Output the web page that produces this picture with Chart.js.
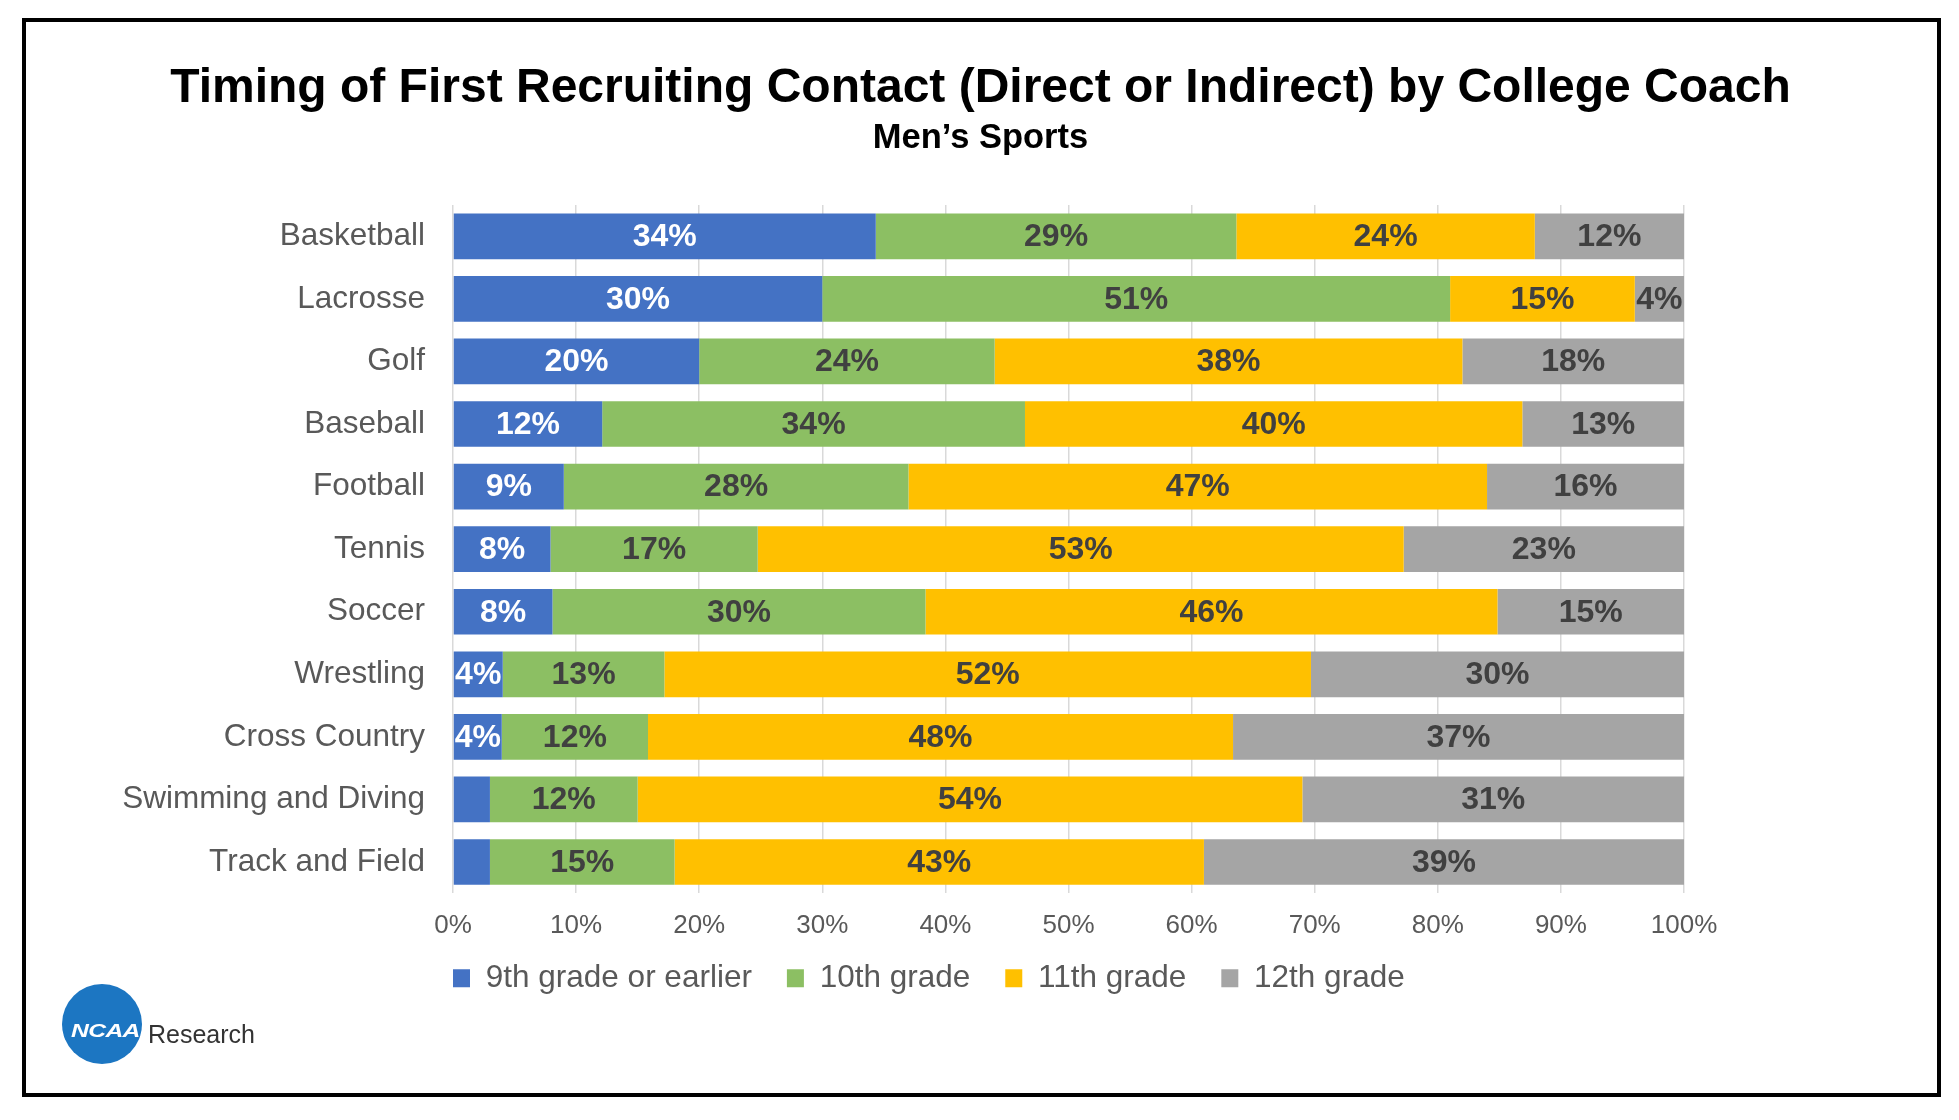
<!DOCTYPE html>
<html>
<head>
<meta charset="utf-8">
<title>Timing of First Recruiting Contact - Men's Sports</title>
<script src="https://cdn.jsdelivr.net/npm/chart.js@4.4.1/dist/chart.umd.min.js"></script>
<style>
  html, body { margin: 0; padding: 0; background: #fff; }
  body { width: 1959px; height: 1120px; position: relative; overflow: hidden; }
  #grafico { position: absolute; left: 0; top: 0; }
  #marco {
    position: absolute; left: 22px; top: 18px; width: 1919px; height: 1079px;
    box-sizing: border-box; border: 4px solid #000; pointer-events: none;
  }
  .disco {
    position: absolute; left: 62px; top: 984px; width: 80px; height: 80px;
    border-radius: 50%; background: #1c76c2;
  }
  .ncaa {
    position: absolute; left: 71px; top: 1021px; font: italic bold 19px/19px "Liberation Sans", Arial, sans-serif;
    color: #fff; letter-spacing: -0.5px; transform: scaleX(1.3); transform-origin: left center;
  }
  .research {
    position: absolute; left: 148px; top: 1022px; font: 25px/25px "Liberation Sans", Arial, sans-serif; color: #333;
  }
</style>
</head>
<body>
<canvas id="grafico" width="1959" height="1120"></canvas>
<div id="marco"></div>
<div class="disco"></div>
<span class="ncaa">NCAA</span>
<span class="research">Research</span>

<script>
// Datos (valores tal como aparecen en las etiquetas)
const sports = ['Basketball', 'Lacrosse', 'Golf', 'Baseball', 'Football', 'Tennis', 'Soccer',
  'Wrestling', 'Cross Country', 'Swimming and Diving', 'Track and Field'];
const seriesNames = ['9th grade or earlier', '10th grade', '11th grade', '12th grade'];
const grade9 = [34, 30, 20, 12, 9, 8, 8, 4, 4, 3, 3];
const grade10 = [29, 51, 24, 34, 28, 17, 30, 13, 12, 12, 15];
const grade11 = [24, 15, 38, 40, 47, 53, 46, 52, 48, 54, 43];
const grade12 = [12, 4, 18, 13, 16, 23, 15, 30, 37, 31, 39];
const xTicks = [0, 10, 20, 30, 40, 50, 60, 70, 80, 90, 100];

const colores = ['#4472c4', '#8cbf63', '#ffc000', '#a5a5a5'];
const coloresTexto = ['#ffffff', '#404040', '#404040', '#404040'];
const fuente = '"Liberation Sans", Arial, sans-serif';

// barras al 100% (como Excel): cada fila se reparte sobre su total
const series = [grade9, grade10, grade11, grade12];
const totales = sports.map((s, i) => series.reduce((acc, arr) => acc + arr[i], 0));

const datasets = series.map((arr, k) => ({
  label: seriesNames[k],
  data: arr.map((v, i) => v / totales[i] * 100),
  raw: arr,
  backgroundColor: colores[k],
  labelColor: coloresTexto[k],
  borderWidth: 0,
  barPercentage: 0.73,
  categoryPercentage: 1
}));

// etiquetas dentro de cada segmento
const etiquetas = {
  id: 'etiquetas',
  afterDatasetsDraw(chart) {
    const ctx = chart.ctx;
    ctx.save();
    ctx.font = 'bold 32px ' + fuente;
    ctx.textAlign = 'center';
    ctx.textBaseline = 'middle';
    chart.data.datasets.forEach((ds, i) => {
      chart.getDatasetMeta(i).data.forEach((bar, j) => {
        const v = ds.raw[j];
        if (v < 4) return; // los 3% no llevan etiqueta
        ctx.fillStyle = ds.labelColor;
        ctx.fillText(v + '%', (bar.x + bar.base) / 2, bar.y + 1);
      });
    });
    ctx.restore();
  }
};

// titulo centrado en todo el marco; leyenda alineada con el 0% y mas arriba
const ajustes = {
  id: 'ajustes',
  afterLayout(chart) {
    chart.boxes.forEach(b => {
      if (b.position === 'top' && b.fullSize) {
        b.left = 2;
        b.right = chart.width;
        b.width = b.right - b.left;
      }
    });
    const lg = chart.legend;
    const pad = lg.options.labels.padding;
    const dx = chart.chartArea.left - pad - lg.left;
    lg.left += dx;
    lg.right += dx;
    lg.top -= 31;
    lg.bottom -= 31;
  }
};

const ctx = document.getElementById('grafico').getContext('2d');

const miGrafico = new Chart(ctx, {
  type: 'bar',
  data: { labels: sports, datasets: datasets },
  options: {
    indexAxis: 'y',
    responsive: false,
    animation: false,
    devicePixelRatio: 1,
    layout: { padding: { left: 3, right: 275, top: 0, bottom: 85 } },
    plugins: {
      title: {
        display: true,
        text: 'Timing of First Recruiting Contact (Direct or Indirect) by College Coach',
        color: '#000',
        font: { family: fuente, size: 48, weight: 'bold' },
        padding: { top: 60, bottom: 0 }
      },
      subtitle: {
        display: true,
        text: 'Men\u2019s Sports',
        color: '#000',
        font: { family: fuente, size: 34.5, weight: 'bold' },
        padding: { top: 0, bottom: 46 }
      },
      legend: {
        position: 'bottom',
        align: 'start',
        labels: {
          color: '#595959',
          font: { family: fuente, size: 31.5 },
          boxWidth: 17,
          boxHeight: 18,
          padding: 35
        }
      },
      tooltip: { enabled: false }
    },
    scales: {
      x: {
        stacked: true,
        min: 0,
        max: 100,
        afterBuildTicks: (scale) => { scale.ticks = xTicks.map(v => ({ value: v })); },
        ticks: {
          callback: v => v + '%',
          color: '#595959',
          font: { family: fuente, size: 26 },
          padding: 17,
          maxRotation: 0
        },
        grid: { color: '#d9d9d9', lineWidth: 1.5, drawTicks: false },
        border: { display: false }
      },
      y: {
        stacked: true,
        afterFit: (scale) => { scale.width = 450; },
        ticks: {
          color: '#595959',
          font: { family: fuente, size: 31.5 },
          padding: 28
        },
        grid: { display: false, drawTicks: false },
        border: { display: false }
      }
    }
  },
  plugins: [etiquetas, ajustes]
});
</script>
</body>
</html>
